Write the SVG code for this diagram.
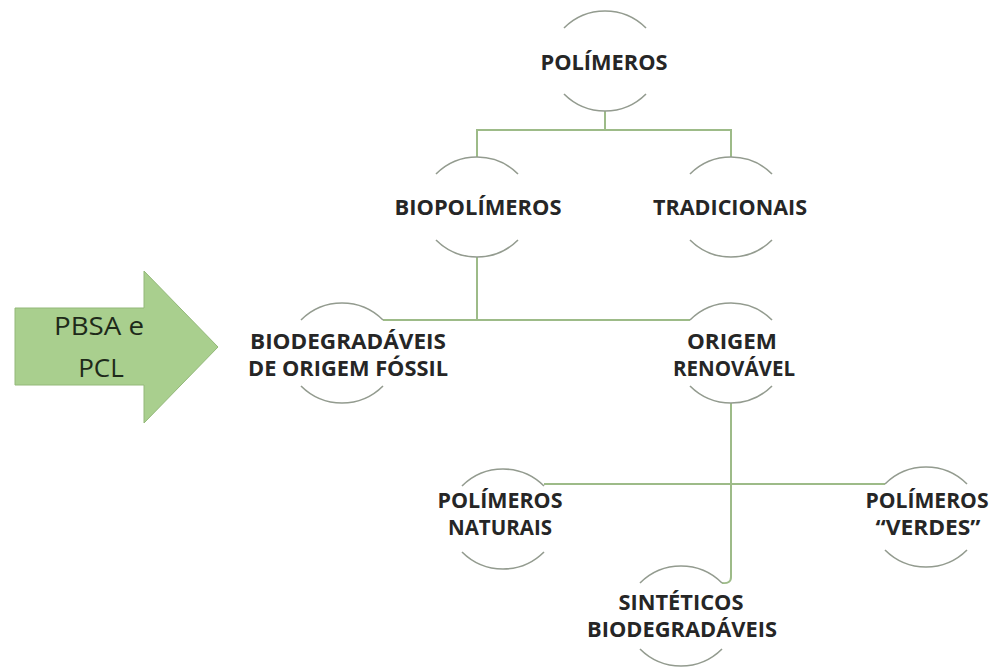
<svg xmlns="http://www.w3.org/2000/svg" width="999" height="669" viewBox="0 0 999 669">
<style>
.arc{fill:none;stroke:#939b8f;stroke-width:1.6}
.con{fill:none;stroke:#9dbb88;stroke-width:2}
.lbl{font-family:"Open Sans","Liberation Sans",sans-serif;font-weight:bold;font-size:21px;fill:#262626;text-anchor:middle}
.arrtxt{font-family:"Open Sans","Liberation Sans",sans-serif;font-size:26px;fill:#1e2a1a;text-anchor:middle}
</style>
<rect width="999" height="669" fill="#ffffff"/>
<g id="connectors">
<path class="con" d="M605,111 V130 M477,157 V130 H731 V157"/>
<path class="con" d="M477,257 V320"/>
<path class="con" d="M383,320 H690"/>
<path class="con" d="M731,403 V577 Q731,584 722,583"/>
<path class="con" d="M544,484 H885"/>
</g>
<g id="arrow">
<path d="M15,308 H144 V271 L218,347 L144,423 V385 H15 Z" fill="#a9cf8e" stroke="#93b879" stroke-width="1"/>
<text class="arrtxt" x="99" y="335" textLength="90" lengthAdjust="spacingAndGlyphs">PBSA e</text>
<text class="arrtxt" x="101" y="377">PCL</text>
</g>
<g id="polimeros">
<path class="arc" d="M564,28 A58,58 0 0 1 646,28 M564,94 A58,58 0 0 0 646,94"/>
<text class="lbl" x="604" y="70" textLength="127" lengthAdjust="spacingAndGlyphs">POLÍMEROS</text>
</g>
<g id="biopolimeros">
<path class="arc" d="M436,174 A58,58 0 0 1 518,174 M436,240 A58,58 0 0 0 518,240"/>
<text class="lbl" x="478" y="215" textLength="167" lengthAdjust="spacingAndGlyphs">BIOPOLÍMEROS</text>
</g>
<g id="tradicionais">
<path class="arc" d="M690,174 A58,58 0 0 1 772,174 M690,240 A58,58 0 0 0 772,240"/>
<text class="lbl" x="730" y="215" textLength="154" lengthAdjust="spacingAndGlyphs">TRADICIONAIS</text>
</g>
<g id="biodegradaveis-fossil">
<path class="arc" d="M301,320 A58,58 0 0 1 383,320 M301,386 A58,58 0 0 0 383,386"/>
<text class="lbl" x="348" y="349" textLength="196" lengthAdjust="spacingAndGlyphs">BIODEGRADÁVEIS</text>
<text class="lbl" x="348" y="376" textLength="200" lengthAdjust="spacingAndGlyphs">DE ORIGEM FÓSSIL</text>
</g>
<g id="origem-renovavel">
<path class="arc" d="M690,320 A58,58 0 0 1 772,320 M690,386 A58,58 0 0 0 772,386"/>
<text class="lbl" x="732" y="349" textLength="90" lengthAdjust="spacingAndGlyphs">ORIGEM</text>
<text class="lbl" x="734" y="376" textLength="122" lengthAdjust="spacingAndGlyphs">RENOVÁVEL</text>
</g>
<g id="polimeros-naturais">
<path class="arc" d="M462,486 A58,58 0 0 1 544,486 M462,552 A58,58 0 0 0 544,552"/>
<text class="lbl" x="500" y="508" textLength="125" lengthAdjust="spacingAndGlyphs">POLÍMEROS</text>
<text class="lbl" x="500" y="535" textLength="104" lengthAdjust="spacingAndGlyphs">NATURAIS</text>
</g>
<g id="polimeros-verdes">
<path class="arc" d="M885,484 A58,58 0 0 1 967,484 M885,550 A58,58 0 0 0 967,550"/>
<text class="lbl" x="927" y="508" textLength="123" lengthAdjust="spacingAndGlyphs">POLÍMEROS</text>
<text class="lbl" x="928" y="535" textLength="105" lengthAdjust="spacingAndGlyphs">“VERDES”</text>
</g>
<g id="sinteticos-biodegradaveis">
<path class="arc" d="M640,583 A58,58 0 0 1 722,583 M640,649 A58,58 0 0 0 722,649"/>
<text class="lbl" x="681" y="610" textLength="125" lengthAdjust="spacingAndGlyphs">SINTÉTICOS</text>
<text class="lbl" x="682" y="637" textLength="190" lengthAdjust="spacingAndGlyphs">BIODEGRADÁVEIS</text>
</g>
</svg>
